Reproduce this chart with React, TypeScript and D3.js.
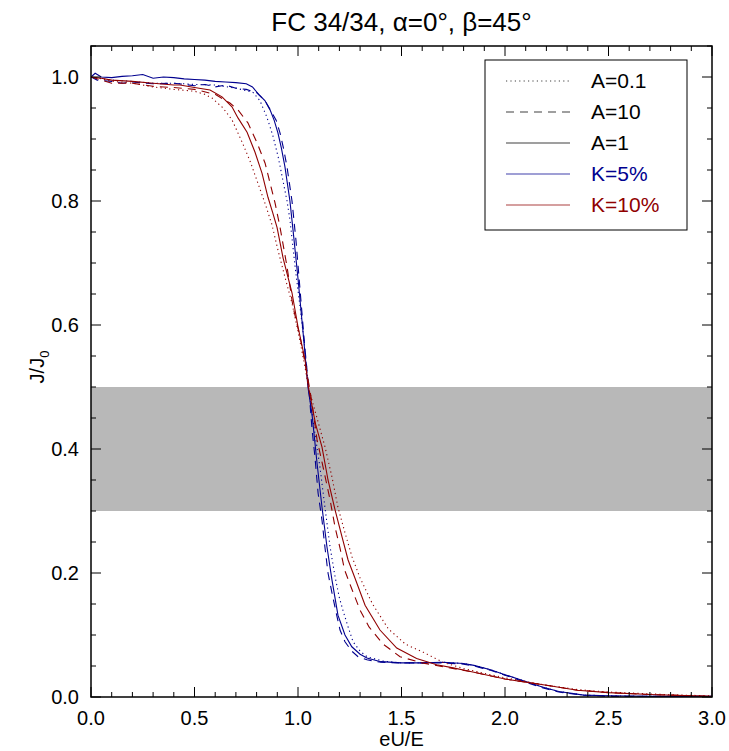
import React from "react";
import * as d3 from "d3";

// ---------- data ----------
const xBlueA1 = [0, 0.02, 0.05, 0.1, 0.15, 0.2, 0.25, 0.3, 0.35, 0.4, 0.45, 0.5, 0.55, 0.6, 0.65, 0.7, 0.75, 0.78, 0.81, 0.84, 0.865, 0.885, 0.903, 0.92, 0.937, 0.961, 0.976, 1.0, 1.024, 1.048, 1.068, 1.092, 1.116, 1.14, 1.164, 1.193, 1.227, 1.26, 1.3, 1.333, 1.4, 1.5, 1.6, 1.7, 1.8, 1.85, 1.93, 2.0, 2.1, 2.18, 2.26, 2.38, 2.5, 2.7, 3.0];
const yBlueA1 = [1.0, 1.006, 1.0, 0.999, 1.001, 1.002, 1.004, 0.998, 1.0, 0.999, 0.997, 0.996, 0.995, 0.993, 0.992, 0.991, 0.989, 0.984, 0.972, 0.962, 0.947, 0.93, 0.91, 0.885, 0.855, 0.8, 0.753, 0.675, 0.59, 0.5, 0.455, 0.377, 0.306, 0.242, 0.189, 0.132, 0.1, 0.081, 0.069, 0.063, 0.057, 0.055, 0.055, 0.056, 0.054, 0.051, 0.044, 0.036, 0.025, 0.016, 0.009, 0.003, 0.002, 0.001, 0.001];

const xBlueA10 = [0, 0.03, 0.1, 0.15, 0.2, 0.3, 0.4, 0.5, 0.55, 0.6, 0.65, 0.7, 0.75, 0.8, 0.84, 0.87, 0.895, 0.913, 0.93, 0.947, 0.971, 0.99, 1.014, 1.034, 1.053, 1.068, 1.082, 1.097, 1.116, 1.13, 1.145, 1.164, 1.185, 1.203, 1.227, 1.26, 1.29, 1.333, 1.4, 1.5, 1.6, 1.7, 1.8, 1.85, 1.93, 2.0, 2.1, 2.18, 2.26, 2.38, 2.5, 2.7, 3.0];
const yBlueA10 = [1.0, 0.995, 0.993, 0.99, 0.992, 0.989, 0.99, 0.986, 0.988, 0.984, 0.987, 0.982, 0.98, 0.975, 0.962, 0.945, 0.93, 0.91, 0.885, 0.855, 0.8, 0.737, 0.64, 0.56, 0.495, 0.431, 0.387, 0.329, 0.285, 0.242, 0.2, 0.168, 0.135, 0.108, 0.089, 0.074, 0.065, 0.06, 0.056, 0.055, 0.055, 0.055, 0.053, 0.05, 0.043, 0.035, 0.024, 0.015, 0.008, 0.003, 0.001, 0.001, 0.001];

const xBlueA01 = [0, 0.1, 0.2, 0.3, 0.4, 0.5, 0.6, 0.7, 0.75, 0.783, 0.816, 0.85, 0.879, 0.905, 0.923, 0.947, 0.961, 0.986, 1.01, 1.034, 1.05, 1.075, 1.106, 1.13, 1.155, 1.179, 1.2, 1.217, 1.24, 1.266, 1.3, 1.333, 1.41, 1.5, 1.6, 1.7, 1.8, 1.85, 1.93, 2.0, 2.1, 2.18, 2.26, 2.38, 2.5, 2.7, 3.0];
const yBlueA01 = [1.0, 0.995, 0.993, 0.99, 0.99, 0.988, 0.987, 0.982, 0.978, 0.975, 0.962, 0.935, 0.905, 0.87, 0.84, 0.8, 0.77, 0.694, 0.629, 0.56, 0.5, 0.44, 0.371, 0.306, 0.242, 0.194, 0.16, 0.14, 0.115, 0.089, 0.074, 0.065, 0.058, 0.055, 0.055, 0.056, 0.054, 0.051, 0.044, 0.036, 0.025, 0.016, 0.009, 0.003, 0.002, 0.001, 0.001];

const xRedA1 = [0, 0.05, 0.1, 0.2, 0.3, 0.4, 0.43, 0.5, 0.575, 0.633, 0.681, 0.71, 0.754, 0.792, 0.826, 0.855, 0.877, 0.899, 0.928, 0.971, 1.0, 1.034, 1.05, 1.085, 1.116, 1.145, 1.179, 1.213, 1.242, 1.275, 1.324, 1.396, 1.477, 1.573, 1.67, 1.75, 1.85, 2.0, 2.1, 2.2, 2.35, 2.5, 2.7, 3.0];
const yRedA1 = [1.0, 0.998, 0.995, 0.993, 0.99, 0.987, 0.987, 0.983, 0.979, 0.968, 0.952, 0.934, 0.911, 0.879, 0.845, 0.806, 0.782, 0.757, 0.708, 0.652, 0.597, 0.544, 0.5, 0.44, 0.403, 0.35, 0.302, 0.258, 0.221, 0.192, 0.148, 0.108, 0.079, 0.062, 0.052, 0.047, 0.04, 0.029, 0.024, 0.019, 0.011, 0.007, 0.004, 0.001];

const xRedA10 = [0, 0.05, 0.1, 0.2, 0.3, 0.4, 0.5, 0.6, 0.671, 0.71, 0.758, 0.802, 0.841, 0.889, 0.913, 0.947, 0.976, 1.01, 1.043, 1.065, 1.092, 1.121, 1.155, 1.179, 1.203, 1.225, 1.259, 1.3, 1.343, 1.412, 1.493, 1.6, 1.7, 1.85, 2.0, 2.1, 2.2, 2.35, 2.5, 2.7, 3.0];
const yRedA10 = [1.0, 0.995, 0.99, 0.99, 0.985, 0.983, 0.98, 0.972, 0.958, 0.947, 0.926, 0.894, 0.861, 0.797, 0.758, 0.694, 0.629, 0.581, 0.523, 0.48, 0.415, 0.371, 0.318, 0.274, 0.24, 0.205, 0.175, 0.14, 0.113, 0.085, 0.065, 0.055, 0.049, 0.04, 0.029, 0.024, 0.019, 0.011, 0.007, 0.004, 0.001];

const xRedA01 = [0, 0.05, 0.1, 0.2, 0.3, 0.4, 0.5, 0.55, 0.585, 0.638, 0.681, 0.73, 0.77, 0.807, 0.84, 0.874, 0.903, 0.937, 0.971, 1.0, 1.034, 1.05, 1.09, 1.13, 1.164, 1.193, 1.227, 1.261, 1.3, 1.36, 1.436, 1.52, 1.6, 1.7, 1.8, 1.9, 2.0, 2.1, 2.2, 2.35, 2.5, 2.7, 2.85, 3.0];
const yRedA01 = [1.0, 0.997, 0.993, 0.99, 0.984, 0.98, 0.977, 0.972, 0.966, 0.95, 0.931, 0.895, 0.863, 0.828, 0.797, 0.762, 0.721, 0.677, 0.635, 0.59, 0.532, 0.5, 0.452, 0.404, 0.355, 0.306, 0.265, 0.226, 0.192, 0.15, 0.11, 0.085, 0.073, 0.056, 0.046, 0.038, 0.031, 0.025, 0.019, 0.012, 0.008, 0.005, 0.003, 0.002];

const xTicks = [0, 0.5, 1.0, 1.5, 2.0, 2.5, 3.0];
const yTicks = [0, 0.2, 0.4, 0.6, 0.8, 1.0];
const legendLabels = ["A=0.1", "A=10", "A=1", "K=5%", "K=10%"];
const bandLow = 0.3;
const bandHigh = 0.5;

// ---------- styles ----------
const BLUE = "#00008f";
const RED = "#900000";
const DOT = "1.2,3.2";
const DASH = "8,6";
const FONT = "'Liberation Sans', Arial, Helvetica, sans-serif";

const series = [
  { xs: xBlueA01, ys: yBlueA01, color: BLUE, dash: DOT },
  { xs: xBlueA10, ys: yBlueA10, color: BLUE, dash: DASH },
  { xs: xBlueA1, ys: yBlueA1, color: BLUE, dash: null },
  { xs: xRedA01, ys: yRedA01, color: RED, dash: DOT },
  { xs: xRedA10, ys: yRedA10, color: RED, dash: DASH },
  { xs: xRedA1, ys: yRedA1, color: RED, dash: null },
];

export default function App() {
  const W = 729, H = 751;
  const L = 91, R = 712, T = 46, B = 697;
  const x = d3.scaleLinear().domain([0, 3]).range([L, R]);
  const y = d3.scaleLinear().domain([0, 1.05]).range([B, T]);

  const line = d3.line<[number, number]>().x(d => x(d[0])).y(d => y(d[1]));

  const xMinor = d3.range(0, 3.0001, 0.1);
  const yMinor = d3.range(0, 1.0501, 0.05);
  const isMajorX = (v: number) => Math.abs(v * 2 - Math.round(v * 2)) < 1e-6;
  const isMajorY = (v: number) => Math.abs(v * 5 - Math.round(v * 5)) < 1e-6;

  const legendItems = [
    { label: legendLabels[0], color: "#000", dash: DOT, text: "#000" },
    { label: legendLabels[1], color: "#000", dash: DASH, text: "#000" },
    { label: legendLabels[2], color: "#000", dash: null, text: "#000" },
    { label: legendLabels[3], color: BLUE, dash: null, text: BLUE },
    { label: legendLabels[4], color: RED, dash: null, text: RED },
  ];

  return (
    <svg width={W} height={H} style={{ position: "absolute", left: 0, top: 0, background: "#fff" }} fontFamily={FONT}>
      <defs>
        <clipPath id="plotclip">
          <rect x={L} y={T} width={R - L} height={B - T} />
        </clipPath>
      </defs>
      <rect x={0} y={0} width={W} height={H} fill="#fff" />
      {/* band */}
      <rect x={L} y={y(bandHigh)} width={R - L} height={y(bandLow) - y(bandHigh)} fill="#b8b8b8" />
      {/* curves */}
      <g clipPath="url(#plotclip)">
        {series.map((s, i) => (
          <path
            key={i}
            d={line(s.xs.map((v, j) => [v, s.ys[j]] as [number, number])) || ""}
            fill="none"
            stroke={s.color}
            strokeWidth={1.1}
            strokeDasharray={s.dash || undefined}
          />
        ))}
      </g>
      {/* frame */}
      <rect x={L} y={T} width={R - L} height={B - T} fill="none" stroke="#000" strokeWidth={1.5} />
      {/* x ticks */}
      {xMinor.map((v, i) => {
        const len = isMajorX(v) ? 10 : 5;
        return (
          <g key={"xt" + i} stroke="#000" strokeWidth={1}>
            <line x1={x(v)} x2={x(v)} y1={B} y2={B - len} />
            <line x1={x(v)} x2={x(v)} y1={T} y2={T + len} />
          </g>
        );
      })}
      {yMinor.map((v, i) => {
        const len = isMajorY(v) ? 10 : 5;
        return (
          <g key={"yt" + i} stroke="#000" strokeWidth={1}>
            <line x1={L} x2={L + len} y1={y(v)} y2={y(v)} />
            <line x1={R} x2={R - len} y1={y(v)} y2={y(v)} />
          </g>
        );
      })}
      {/* tick labels */}
      {xTicks.map((v, i) => (
        <text key={"xl" + i} x={x(v)} y={725} textAnchor="middle" fontSize={20} fill="#000">
          {v.toFixed(1)}
        </text>
      ))}
      {yTicks.map((v, i) => (
        <text key={"yl" + i} x={79} y={y(v) + 7} textAnchor="end" fontSize={20} fill="#000">
          {v.toFixed(1)}
        </text>
      ))}
      {/* axis titles */}
      <text x={(L + R) / 2} y={746} textAnchor="middle" fontSize={20} fill="#000">eU/E</text>
      <text transform={`translate(44, ${y(0.5) - 20}) rotate(-90)`} textAnchor="middle" fontSize={20} fill="#000">
        J/J<tspan fontSize={13} dy={5}>0</tspan>
      </text>
      {/* title */}
      <text x={(L + R) / 2} y={31} textAnchor="middle" fontSize={26} fill="#000">
        FC 34/34, α=0°, β=45°
      </text>
      {/* legend */}
      <rect x={485} y={60} width={202} height={170} fill="#fff" stroke="#000" strokeWidth={1} />
      {legendItems.map((it, i) => {
        const cy = 81 + i * 31;
        return (
          <g key={"lg" + i}>
            <line x1={506} x2={570} y1={cy} y2={cy} stroke={it.color} strokeWidth={1} strokeDasharray={it.dash || undefined} opacity={0.75} />
            <text x={591} y={cy + 7} fontSize={21} fill={it.text}>{it.label}</text>
          </g>
        );
      })}
    </svg>
  );
}
